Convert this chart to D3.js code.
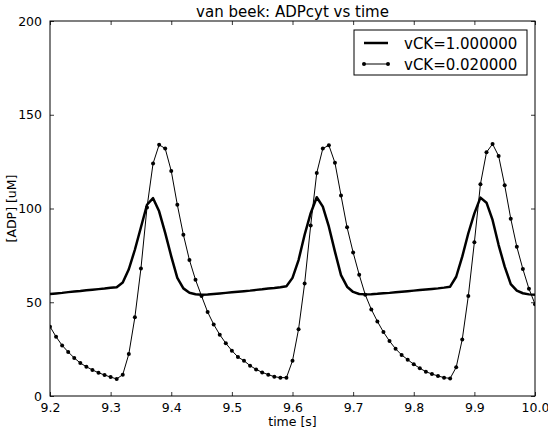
<!DOCTYPE html>
<html>
<head>
<meta charset="utf-8">
<script src="https://cdn.jsdelivr.net/npm/d3@7"></script>
<style>
  body { margin: 0; background: #fff; }
  text { font-family: "DejaVu Sans", sans-serif; fill: #000; }
</style>
</head>
<body>
<div id="chart"></div>
<script>
let chart_width = 548;
let chart_height = 431;

// time samples, 0.01 s apart
let times = d3.range(81).map(function (i) { return +(9.2 + i * 0.01).toFixed(2); });

// vCK = 1.0 (thick line)
let adp_ck1 = [
  54.4, 54.7, 55.0, 55.4, 55.7, 56.0, 56.4, 56.7, 57.0, 57.3,
  57.7, 58.0, 60.5, 67.6, 78.0, 90.0, 102.0, 105.5, 98.5, 87.0,
  74.5, 63.0, 57.4, 55.1, 54.3, 54.0, 54.1, 54.4, 54.7, 55.0,
  55.3, 55.6, 55.9, 56.2, 56.6, 56.9, 57.3, 57.6, 58.0, 58.5,
  63.0, 72.5, 86.0, 97.5, 106.0, 101.0, 90.3, 77.0, 64.5, 58.3,
  55.5, 54.4, 54.2, 54.3, 54.5, 54.8, 55.0, 55.3, 55.6, 55.9,
  56.2, 56.5, 56.8, 57.1, 57.4, 57.8, 58.3, 63.6, 74.3, 86.8,
  97.4, 105.8, 103.1, 93.9, 80.5, 69.0, 59.7, 56.2, 54.8, 54.2,
  54.0
];

// vCK = 0.02 (thin line with dots)
let adp_ck002 = [
  37.0, 31.6, 27.0, 23.5, 20.3, 17.6, 15.6, 13.9, 12.4, 11.2,
  10.1, 9.1, 11.4, 22.4, 42.0, 68.0, 100.6, 124.0, 134.0, 132.0,
  120.0, 102.0, 86.0, 72.5, 62.0, 53.3, 44.8, 38.2, 32.7, 28.1,
  24.2, 20.8, 18.8, 16.2, 14.2, 12.6, 11.4, 10.3, 9.8, 9.8,
  18.8, 35.6, 60.0, 91.0, 119.0, 132.0, 133.7, 124.4, 107.0, 90.0,
  76.6, 64.7, 54.0, 46.2, 39.8, 34.1, 29.3, 25.2, 21.9, 19.4,
  16.9, 14.8, 13.0, 11.7, 10.7, 9.8, 9.4, 15.3, 30.2, 53.3,
  82.0, 113.0, 130.0, 134.4, 128.0, 112.4, 94.6, 79.6, 67.7, 57.2,
  49.0
];

let x_ticks = [9.2, 9.3, 9.4, 9.5, 9.6, 9.7, 9.8, 9.9, 10.0];
let y_ticks = [0, 50, 100, 150, 200];
let legend_labels = ["vCK=1.000000", "vCK=0.020000"];

let plot_left = 50, plot_right = 535, plot_top = 21, plot_bottom = 396;

let svg = d3
  .select("#chart")
  .append("svg")
  .attr("width", chart_width)
  .attr("height", chart_height);

let x = d3.scaleLinear().domain([9.2, 10.0]).range([plot_left, plot_right]);
let y = d3.scaleLinear().domain([0, 200]).range([plot_bottom, plot_top]);

// clip so lines stop at the frame
svg.append("clipPath").attr("id", "clip")
  .append("rect")
  .attr("x", plot_left).attr("y", plot_top)
  .attr("width", plot_right - plot_left).attr("height", plot_bottom - plot_top);

let plot = svg.append("g").attr("clip-path", "url(#clip)");

let line = d3.line()
  .x(function (d, i) { return x(times[i]); })
  .y(function (d) { return y(d); });

plot.append("path")
  .datum(adp_ck1)
  .attr("d", line)
  .attr("fill", "none")
  .attr("stroke", "#000")
  .attr("stroke-width", 2.5)
  .attr("stroke-linejoin", "round");

plot.append("path")
  .datum(adp_ck002)
  .attr("d", line)
  .attr("fill", "none")
  .attr("stroke", "#000")
  .attr("stroke-width", 1);

plot.selectAll("circle.pt")
  .data(adp_ck002)
  .enter()
  .append("circle")
  .attr("class", "pt")
  .attr("cx", function (d, i) { return x(times[i]); })
  .attr("cy", function (d) { return y(d); })
  .attr("r", 2)
  .attr("fill", "#000");

// axes, ticks pointing inwards on all four sides
let fmt_x = d3.format(".1f");
let ax_bottom = svg.append("g").attr("transform", "translate(0," + plot_bottom + ")")
  .call(d3.axisBottom(x).tickValues(x_ticks).tickSize(-4).tickPadding(7).tickFormat(fmt_x));
let ax_top = svg.append("g").attr("transform", "translate(0," + plot_top + ")")
  .call(d3.axisTop(x).tickValues(x_ticks).tickSize(-4).tickFormat(""));
let ax_left = svg.append("g").attr("transform", "translate(" + plot_left + ",0)")
  .call(d3.axisLeft(y).tickValues(y_ticks).tickSize(-4).tickPadding(8));
let ax_right = svg.append("g").attr("transform", "translate(" + plot_right + ",0)")
  .call(d3.axisRight(y).tickValues(y_ticks).tickSize(-4).tickFormat(""));

[ax_bottom, ax_top, ax_left, ax_right].forEach(function (a) {
  a.select(".domain").remove();
  a.selectAll("line").attr("stroke", "#000").attr("stroke-width", 0.8);
  a.selectAll("text").attr("font-family", "DejaVu Sans").attr("font-size", 12.5).attr("fill", "#000");
});

// frame
svg.append("rect")
  .attr("x", plot_left).attr("y", plot_top)
  .attr("width", plot_right - plot_left).attr("height", plot_bottom - plot_top)
  .attr("fill", "none")
  .attr("stroke", "#000")
  .attr("stroke-width", 1);

// titles
svg.append("text")
  .attr("x", (plot_left + plot_right) / 2)
  .attr("y", 17)
  .attr("text-anchor", "middle")
  .attr("font-size", 15)
  .text("van beek: ADPcyt vs time");

svg.append("text")
  .attr("x", (plot_left + plot_right) / 2)
  .attr("y", 426)
  .attr("text-anchor", "middle")
  .attr("font-size", 12.5)
  .text("time [s]");

svg.append("text")
  .attr("transform", "translate(16," + (plot_top + plot_bottom) / 2 + ") rotate(-90)")
  .attr("text-anchor", "middle")
  .attr("font-size", 12.5)
  .text("[ADP] [uM]");

// legend
let legend = svg.append("g").attr("transform", "translate(354,30)");
legend.append("rect")
  .attr("width", 173).attr("height", 45)
  .attr("fill", "#fff")
  .attr("stroke", "#000")
  .attr("stroke-width", 1);

legend_labels.forEach(function (label, i) {
  let ly = 13 + i * 21;
  legend.append("line")
    .attr("x1", 10).attr("x2", 34)
    .attr("y1", ly).attr("y2", ly)
    .attr("stroke", "#000")
    .attr("stroke-width", i == 0 ? 2.5 : 1);
  if (i == 1) {
    [10, 34].forEach(function (cx) {
      legend.append("circle").attr("cx", cx).attr("cy", ly).attr("r", 2).attr("fill", "#000");
    });
  }
  legend.append("text")
    .attr("x", 50)
    .attr("y", ly + 5.5)
    .attr("font-size", 15)
    .text(label);
});
</script>
</body>
</html>
